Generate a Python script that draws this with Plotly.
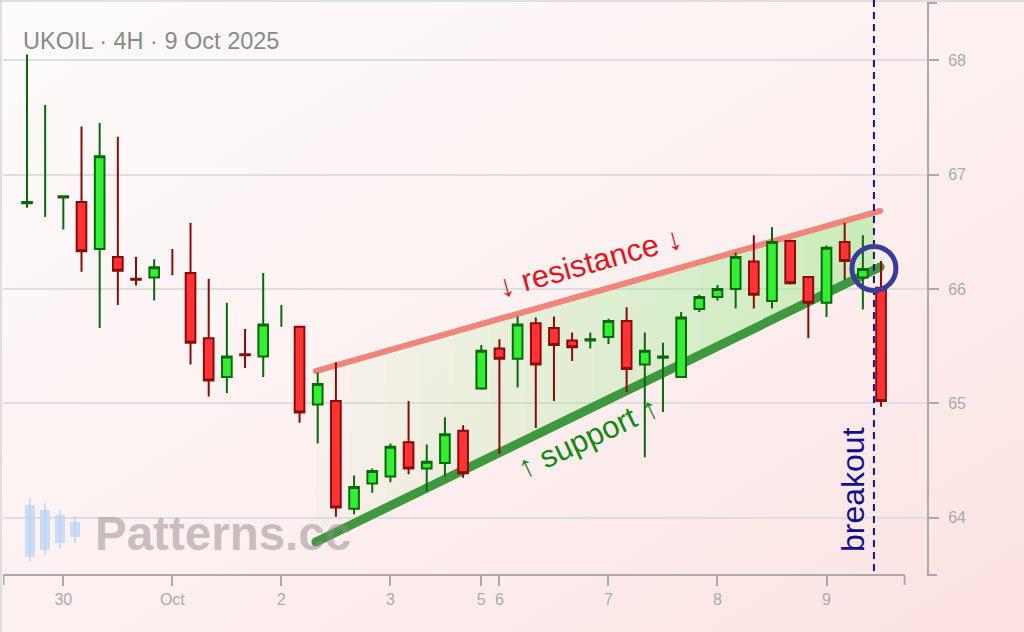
import base64
import plotly.graph_objects as go

# ---------------- data ----------------
idx = list(range(48))
opens = [66.75, 66.90, 66.80, 66.76, 66.35, 66.28, 66.09, 66.10, 66.24, 66.14,
         65.57, 65.23, 65.43, 65.41, 65.76, 65.67, 64.99, 65.02, 64.08, 64.30,
         64.36, 64.66, 64.43, 64.48, 64.76, 65.13, 65.48, 65.39, 65.70, 65.66,
         65.55, 65.55, 65.58, 65.72, 65.34, 65.40, 65.23, 65.825, 65.93, 66.00,
         66.24, 65.895, 66.42, 66.105, 65.88, 66.41, 66.10, 66.01]
highs = [68.05, 67.61, 66.82, 67.42, 67.45, 67.33, 66.28, 66.26, 66.35, 66.58,
         66.09, 65.88, 65.65, 66.14, 65.86, 65.67, 65.27, 65.36, 64.37, 64.43,
         64.65, 65.02, 64.64, 64.88, 64.81, 65.51, 65.56, 65.76, 65.75, 65.76,
         65.62, 65.62, 65.74, 65.84, 65.62, 65.53, 65.80, 65.95, 66.035, 66.32,
         66.47, 66.54, 66.43, 66.11, 66.38, 66.58, 66.47, 66.245]
lows = [66.71, 66.63, 66.52, 66.15, 65.66, 65.86, 66.03, 65.90, 66.12, 65.34,
        65.06, 65.09, 65.31, 65.23, 65.67, 64.83, 64.65, 64.01, 64.03, 64.22,
        64.31, 64.38, 64.23, 64.36, 64.35, 65.12, 64.56, 65.14, 64.785, 65.02,
        65.37, 65.48, 65.52, 65.10, 64.53, 64.925, 65.23, 65.80, 65.90, 65.83,
        65.83, 65.83, 66.04, 65.57, 65.755, 66.08, 65.82, 64.97]
closes = [66.76, 66.91, 66.81, 66.33, 67.16, 66.16, 66.08, 66.19, 66.23, 65.53,
          65.20, 65.41, 65.42, 65.69, 65.77, 64.92, 65.17, 64.09, 64.27, 64.41,
          64.62, 64.43, 64.49, 64.73, 64.39, 65.46, 65.39, 65.69, 65.34, 65.51,
          65.49, 65.56, 65.72, 65.30, 65.46, 65.41, 65.75, 65.93, 66.00, 66.28,
          65.95, 66.41, 66.05, 65.88, 66.36, 66.245, 66.175, 65.02]
wick_only = [1, 8, 14]          # bars drawn without a visible body

tick_pos = [2, 8, 14, 20, 25, 26, 32, 38, 44]
tick_text = ["30", "Oct", "2", "3", "5", "6", "7", "8", "9"]
y_ticks = [64, 65, 66, 67, 68]

res_x = [15.9, 46.95]
res_y = [65.283, 66.682]
sup_x = [15.9, 46.95]
sup_y = [63.788, 66.192]
breakout_x = 46.61
circle_y = 66.18

title_text = "UKOIL · 4H · 9 Oct 2025"

# ---------------- geometry helpers ----------------
W, H = 1024, 632
PL, PT, PR, PB = 3, 3, 97, 57
PW, PH = W - PL - PR, H - PT - PB
X_RANGE = [-1.32, 49.53]
Y_RANGE = [63.5, 68.5]


def pxx(px):
    return (px - PL) / PW


def pxy(py):
    return 1 - (py - PT) / PH


def interp(xs, ys, x):
    return ys[0] + (ys[1] - ys[0]) * (x - xs[0]) / (xs[1] - xs[0])


FONT = "Liberation Sans, Arial, sans-serif"
fig = go.Figure()

# candles
cx = [i for i in idx if i not in wick_only]
fig.add_trace(go.Candlestick(
    x=cx,
    open=[opens[i] for i in cx], high=[highs[i] for i in cx],
    low=[lows[i] for i in cx], close=[closes[i] for i in cx],
    increasing=dict(fillcolor="#33ee33", line=dict(color="#0a6a0a", width=2)),
    decreasing=dict(fillcolor="#ff3333", line=dict(color="#8b0a0a", width=2)),
    whiskerwidth=0, hoverinfo="skip"))
fig.add_trace(go.Ohlc(
    x=wick_only,
    open=[opens[i] for i in wick_only], high=[highs[i] for i in wick_only],
    low=[lows[i] for i in wick_only], close=[closes[i] for i in wick_only],
    increasing=dict(line=dict(color="#0a6a0a", width=2)),
    decreasing=dict(line=dict(color="#8b0a0a", width=2)),
    tickwidth=0, hoverinfo="skip"))

# background gradient
svg = ('<svg xmlns="http://www.w3.org/2000/svg" width="1024" height="632" '
       'viewBox="0 0 1024 632" preserveAspectRatio="none"><defs>'
       '<linearGradient id="g" x1="0" y1="0" x2="1" y2="1">'
       '<stop offset="0" stop-color="#fdfbfb"/>'
       '<stop offset="0.5" stop-color="#fdf1f1"/>'
       '<stop offset="1" stop-color="#fde2e2"/></linearGradient></defs>'
       '<rect width="1024" height="632" fill="url(#g)"/></svg>')
uri = "data:image/svg+xml;base64," + base64.b64encode(svg.encode()).decode()

shapes = []
gray = "#aaaaaa"

# pattern fill (gradient via strips), under the candles
N = 16
x_start, x_end = res_x[0], breakout_x
for i in range(N):
    xa = x_start + (x_end - x_start) * i / N
    xb = x_start + (x_end - x_start) * (i + 1) / N
    a = 0.03 + 0.42 * (i + 0.5) / N
    path = (f"M {xa},{interp(sup_x, sup_y, xa)} L {xb},{interp(sup_x, sup_y, xb)} "
            f"L {xb},{interp(res_x, res_y, xb)} L {xa},{interp(res_x, res_y, xa)} Z")
    shapes.append(dict(type="path", xref="x", yref="y", path=path, layer="between",
                       fillcolor=f"rgba(135,235,120,{a:.3f})", line=dict(width=0)))

# trend lines with round caps
for xs, ys, col, wd in ((res_x, res_y, "#f2857a", 6), (sup_x, sup_y, "#3e993e", 9)):
    shapes.append(dict(type="line", xref="x", yref="y", x0=xs[0], x1=xs[1],
                       y0=ys[0], y1=ys[1], layer="between",
                       line=dict(color=col, width=wd)))
    for xe, ye in zip(xs, ys):
        shapes.append(dict(type="circle", xref="x", yref="y", xsizemode="pixel",
                           ysizemode="pixel", xanchor=xe, yanchor=ye,
                           x0=-wd / 2, x1=wd / 2, y0=-wd / 2, y1=wd / 2,
                           layer="between", fillcolor=col, line=dict(width=0)))

# x axis line (ends short of y axis) and end ticks
shapes.append(dict(type="line", xref="x", yref="paper", x0=X_RANGE[0], x1=48.3,
                   y0=0, y1=0, line=dict(color=gray, width=2)))
for xv in (X_RANGE[0] + 0.03, 48.3):
    shapes.append(dict(type="line", xref="x", yref="paper", x0=xv, x1=xv,
                       y0=0, y1=pxy(585), line=dict(color=gray, width=2)))
# y axis end ticks
for yv in (0, 1):
    shapes.append(dict(type="line", xref="paper", yref="paper", x0=1, x1=pxx(937),
                       y0=yv, y1=yv, line=dict(color=gray, width=2)))
# frame border top/left
shapes.append(dict(type="line", xref="paper", yref="paper", x0=pxx(0), x1=pxx(W),
                   y0=pxy(1), y1=pxy(1), line=dict(color="#d6d6d6", width=1.5)))
shapes.append(dict(type="line", xref="paper", yref="paper", x0=pxx(1), x1=pxx(1),
                   y0=pxy(0), y1=pxy(H), line=dict(color="#d6d6d6", width=1.5)))
# breakout dashed line
shapes.append(dict(type="line", xref="x", yref="paper", x0=breakout_x, x1=breakout_x,
                   y0=pxy(571), y1=pxy(0), layer="above",
                   line=dict(color="#15158a", width=2, dash="7px,5px")))
# circle
shapes.append(dict(type="circle", xref="x", yref="y", xsizemode="pixel",
                   ysizemode="pixel", xanchor=breakout_x, yanchor=circle_y,
                   x0=-22, x1=22, y0=-22, y1=22, layer="above",
                   line=dict(color="#3b3b9a", width=5)))
# watermark logo
logo = [(30, 498, 562, 505, 557), (45, 503, 555, 510, 550),
        (60, 510, 549, 515, 543), (75, 516, 543, 522, 537)]
lc = "rgba(185,212,245,0.75)"
for cxp, wt, wb, bt, bb in logo:
    shapes.append(dict(type="line", xref="paper", yref="paper", x0=pxx(cxp), x1=pxx(cxp),
                       y0=pxy(wt), y1=pxy(wb), layer="above", line=dict(color=lc, width=2)))
    shapes.append(dict(type="rect", xref="paper", yref="paper", x0=pxx(cxp - 5),
                       x1=pxx(cxp + 5), y0=pxy(bt), y1=pxy(bb), layer="above",
                       fillcolor=lc, line=dict(width=0)))

annotations = [
    dict(text=title_text, xref="paper", yref="paper", x=pxx(21), y=pxy(41),
         xanchor="left", yanchor="middle", showarrow=False,
         font=dict(family=FONT, size=23.5, color="#8a8a8a")),
    dict(text="↓ resistance ↓", xref="paper", yref="paper", x=pxx(590), y=pxy(262),
         xanchor="center", yanchor="middle", textangle=-15.5, showarrow=False,
         font=dict(family=FONT, size=31, color="#e6141c")),
    dict(text="↑ support ↑", xref="paper", yref="paper", x=pxx(588), y=pxy(437),
         xanchor="center", yanchor="middle", textangle=-25, showarrow=False,
         font=dict(family=FONT, size=31, color="#118a11")),
    dict(text="breakout", xref="paper", yref="paper", x=pxx(853), y=pxy(490),
         xanchor="center", yanchor="middle", textangle=-90, showarrow=False,
         font=dict(family=FONT, size=32, color="#10108a")),
    dict(text="<b>Patterns.cc</b>", xref="paper", yref="paper", x=pxx(93), y=pxy(533),
         xanchor="left", yanchor="middle", showarrow=False,
         font=dict(family=FONT, size=47.5, color="rgba(150,138,138,0.5)")),
]

fig.update_layout(
    width=W, height=H,
    margin=dict(l=PL, r=PR, t=PT, b=PB, pad=0),
    paper_bgcolor="rgba(0,0,0,0)", plot_bgcolor="rgba(0,0,0,0)",
    showlegend=False, hovermode=False, boxgap=0.24,
    font=dict(family=FONT),
    images=[dict(source=uri, xref="paper", yref="paper", x=pxx(0), y=pxy(0),
                 sizex=W / PW, sizey=H / PH, xanchor="left", yanchor="top",
                 sizing="stretch", layer="below")],
    shapes=shapes, annotations=annotations,
    xaxis=dict(range=X_RANGE, showgrid=False, zeroline=False, showline=False,
               ticks="outside", ticklen=10, tickwidth=2, tickcolor=gray,
               tickvals=tick_pos, ticktext=tick_text,
               tickfont=dict(family=FONT, size=16, color=gray),
               rangeslider=dict(visible=False), fixedrange=True),
    yaxis=dict(range=Y_RANGE, side="right", showline=True, linecolor=gray,
               linewidth=2, ticks="outside", ticklen=10, tickwidth=2,
               tickcolor=gray, tickvals=y_ticks, gridcolor="#dedede",
               gridwidth=1.5, zeroline=False, ticklabelstandoff=6,
               tickfont=dict(family=FONT, size=16, color=gray), fixedrange=True),
)

fig.write_html("out.html", config={"displayModeBar": False},
               post_script="document.body.style.margin='0';document.body.style.overflow='hidden';")
